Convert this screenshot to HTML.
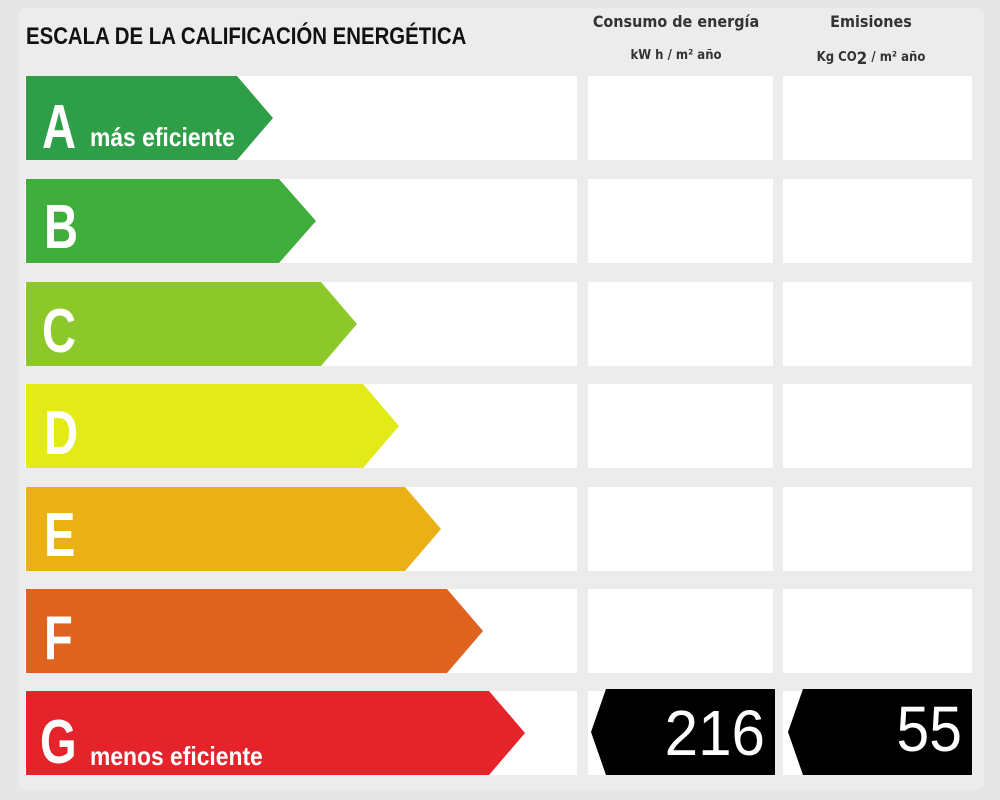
<!DOCTYPE html>
<html><head><meta charset="utf-8"><style>
html,body{margin:0;padding:0;background:#ebebeb;}
svg{display:block;}
text{font-family:"Liberation Sans",sans-serif;font-weight:bold;}
.hd{font-family:'DejaVu Sans Condensed','DejaVu Sans',sans-serif;font-weight:bold;}
</style></head><body>
<svg width="1000" height="800" viewBox="0 0 1000 800" xmlns="http://www.w3.org/2000/svg">
<rect x="0" y="0" width="1000" height="800" fill="#e6e6e6"/>
<rect x="18" y="8" width="966" height="782" rx="8" fill="#ececec"/>
<text x="26" y="44" font-size="24" fill="#111" transform="translate(26 0) scale(0.85 1) translate(-26 0)">ESCALA DE LA CALIFICACIÓN ENERGÉTICA</text>
<text x="676" y="27" font-size="16" fill="#333" text-anchor="middle" class="hd">Consumo de energía</text>
<text x="676" y="59" font-size="13" fill="#333" text-anchor="middle" class="hd">kW h / m² año</text>
<text x="871" y="27" font-size="16" fill="#333" text-anchor="middle" class="hd">Emisiones</text>
<text x="871" y="61" font-size="13" fill="#333" text-anchor="middle" class="hd">Kg CO<tspan font-size="17" dy="3">2</tspan><tspan dy="-3"> / m²  año</tspan></text>
<g fill="#ffffff">
<rect x="25" y="76" width="552" height="84"/><rect x="588" y="76" width="185" height="84"/><rect x="783" y="76" width="189" height="84"/>
<rect x="25" y="179" width="552" height="84"/><rect x="588" y="179" width="185" height="84"/><rect x="783" y="179" width="189" height="84"/>
<rect x="25" y="282" width="552" height="84"/><rect x="588" y="282" width="185" height="84"/><rect x="783" y="282" width="189" height="84"/>
<rect x="25" y="384" width="552" height="84"/><rect x="588" y="384" width="185" height="84"/><rect x="783" y="384" width="189" height="84"/>
<rect x="25" y="487" width="552" height="84"/><rect x="588" y="487" width="185" height="84"/><rect x="783" y="487" width="189" height="84"/>
<rect x="25" y="589" width="552" height="84"/><rect x="588" y="589" width="185" height="84"/><rect x="783" y="589" width="189" height="84"/>
<rect x="25" y="691" width="552" height="84"/><rect x="588" y="691" width="185" height="84"/><rect x="783" y="691" width="189" height="84"/>
</g>
<polygon points="26,76 237,76 273,118 237,160 26,160" fill="#2f9e48"/>
<polygon points="26,179 279,179 316,221 279,263 26,263" fill="#3fae3c"/>
<polygon points="26,282 321,282 357,324 321,366 26,366" fill="#8dc82a"/>
<polygon points="26,384 363,384 399,426 363,468 26,468" fill="#e2ea17"/>
<polygon points="26,487 405,487 441,529 405,571 26,571" fill="#ebb016"/>
<polygon points="26,589 447,589 483,631 447,673 26,673" fill="#df621e"/>
<polygon points="26,691 489,691 525,733 489,775 26,775" fill="#e4232a"/>
<g fill="#fff" font-size="62">
<text x="42" y="148" transform="translate(42 0) scale(0.76 1) translate(-42 0)">A</text>
<text x="44" y="248" transform="translate(44 0) scale(0.76 1) translate(-44 0)">B</text>
<text x="42" y="352" transform="translate(42 0) scale(0.76 1) translate(-42 0)">C</text>
<text x="44" y="454" transform="translate(44 0) scale(0.76 1) translate(-44 0)">D</text>
<text x="44" y="556" transform="translate(44 0) scale(0.76 1) translate(-44 0)">E</text>
<text x="44" y="659" transform="translate(44 0) scale(0.76 1) translate(-44 0)">F</text>
<text x="40" y="763" transform="translate(40 0) scale(0.76 1) translate(-40 0)">G</text>
</g>
<text x="90" y="146" font-size="26" fill="#fff" transform="translate(90 0) scale(0.88 1) translate(-90 0)">más eficiente</text>
<text x="90" y="765" font-size="26" fill="#fff" transform="translate(90 0) scale(0.88 1) translate(-90 0)">menos eficiente</text>
<polygon points="606,689 775,689 775,775 606,775 591,732" fill="#000"/>
<polygon points="803,689 972,689 972,775 803,775 788,732" fill="#000"/>
<text x="765" y="755" font-size="64" fill="#fff" text-anchor="end" style="font-weight:normal" transform="translate(765 0) scale(0.94 1) translate(-765 0)">216</text>
<text x="962" y="751" font-size="64" fill="#fff" text-anchor="end" style="font-weight:normal" transform="translate(962 0) scale(0.92 1) translate(-962 0)">55</text>
</svg>
</body></html>
